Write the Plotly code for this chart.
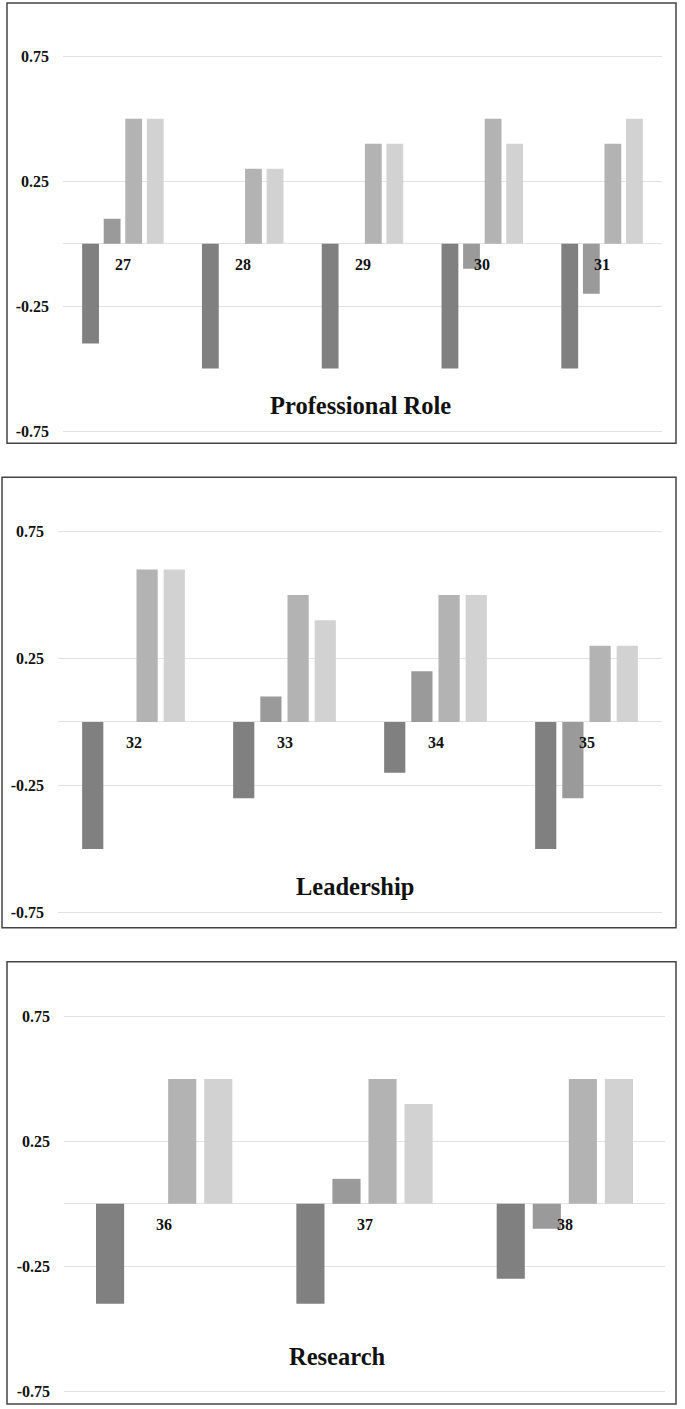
import plotly.graph_objects as go

# ---- data ----
cats1 = ["27", "28", "29", "30", "31"]
p1_s1 = [-0.4, -0.5, -0.5, -0.5, -0.5]
p1_s2 = [0.1, 0.0, 0.0, -0.1, -0.2]
p1_s3 = [0.5, 0.3, 0.4, 0.5, 0.4]
p1_s4 = [0.5, 0.3, 0.4, 0.4, 0.5]

cats2 = ["32", "33", "34", "35"]
p2_s1 = [-0.5, -0.3, -0.2, -0.5]
p2_s2 = [0.0, 0.1, 0.2, -0.3]
p2_s3 = [0.6, 0.5, 0.5, 0.3]
p2_s4 = [0.6, 0.4, 0.5, 0.3]

cats3 = ["36", "37", "38"]
p3_s1 = [-0.4, -0.4, -0.3]
p3_s2 = [0.0, 0.1, -0.1]
p3_s3 = [0.5, 0.5, 0.5]
p3_s4 = [0.5, 0.4, 0.5]

titles = ["Professional Role", "Leadership", "Research"]
tick_vals = [-0.75, -0.25, 0.25, 0.75]
tick_text = ["-0.75", "-0.25", "0.25", "0.75"]
colors = ["#808080", "#9a9a9a", "#b3b3b3", "#d2d2d2"]

W, H = 685, 1409
def px(x): return x / W
def py(y): return 1 - y / H

panels = [
    dict(cats=cats1, series=[p1_s1, p1_s2, p1_s3, p1_s4], title=titles[0],
         xd=(63, 662), yd=(47.8, 438.2), box=(7, 2, 676, 443), tpos=(361, 405)),
    dict(cats=cats2, series=[p2_s1, p2_s2, p2_s3, p2_s4], title=titles[1],
         xd=(58, 662), yd=(523.5, 920.5), box=(2, 477, 676, 928), tpos=(355, 887)),
    dict(cats=cats3, series=[p3_s1, p3_s2, p3_s3, p3_s4], title=titles[2],
         xd=(64, 665), yd=(1009.5, 1399.5), box=(7, 962, 676, 1405), tpos=(337, 1357)),
]

fig = go.Figure()
shapes = []
annotations = []
serif = "Liberation Serif, Times New Roman, serif"

for i, p in enumerate(panels):
    n = i + 1
    xa = "x" if n == 1 else f"x{n}"
    ya = "y" if n == 1 else f"y{n}"
    for s, vals in enumerate(p["series"]):
        fig.add_trace(go.Bar(x=p["cats"], y=vals, xaxis=xa, yaxis=ya,
                             marker=dict(color=colors[s], line=dict(width=0)),
                             showlegend=False, hoverinfo="skip"))
    xkey = "xaxis" if n == 1 else f"xaxis{n}"
    ykey = "yaxis" if n == 1 else f"yaxis{n}"
    ncat = len(p["cats"])
    fig.update_layout(**{
        xkey: dict(domain=[px(p["xd"][0]), px(p["xd"][1])], anchor=ya,
                   showticklabels=False, showgrid=False, zeroline=False,
                   showline=False, ticks="", type="category",
                   range=[-0.5, ncat - 0.5]),
        ykey: dict(domain=[py(p["yd"][1]), py(p["yd"][0])], anchor=xa,
                   range=[-0.78, 0.78], tickvals=tick_vals, ticktext=tick_text,
                   showgrid=True, gridcolor="#e2e2e2", gridwidth=1,
                   zeroline=True, zerolinecolor="#e2e2e2", zerolinewidth=1,
                   showline=False, ticks="", ticklabelstandoff=13,
                   tickfont=dict(family=serif, size=16, color="#111", weight="bold")),
    })
    x0, y0, x1, y1 = p["box"]
    shapes.append(dict(type="rect", xref="paper", yref="paper",
                       x0=px(x0), x1=px(x1), y0=py(y1), y1=py(y0),
                       line=dict(color="#444444", width=1.5), fillcolor="rgba(0,0,0,0)"))
    for j, c in enumerate(p["cats"]):
        annotations.append(dict(x=j, y=0, xref=xa, yref=ya, text=c, showarrow=False,
                                yanchor="middle", yshift=-21,
                                font=dict(family=serif, size=16, color="#111", weight="bold")))
    annotations.append(dict(x=px(p["tpos"][0]), y=py(p["tpos"][1]), xref="paper", yref="paper",
                            text=p["title"], showarrow=False, xanchor="center", yanchor="middle",
                            font=dict(family=serif, size=24.5, color="#111", weight="bold")))

fig.update_layout(width=W, height=H, margin=dict(l=0, r=0, t=0, b=0),
                  paper_bgcolor="white", plot_bgcolor="white",
                  barmode="group", bargap=0.28, bargroupgap=0.22,
                  shapes=shapes, annotations=annotations)

fig.write_html("out.html", config={"displayModeBar": False},
               post_script="document.body.style.margin='0';document.body.style.overflow='hidden';")
